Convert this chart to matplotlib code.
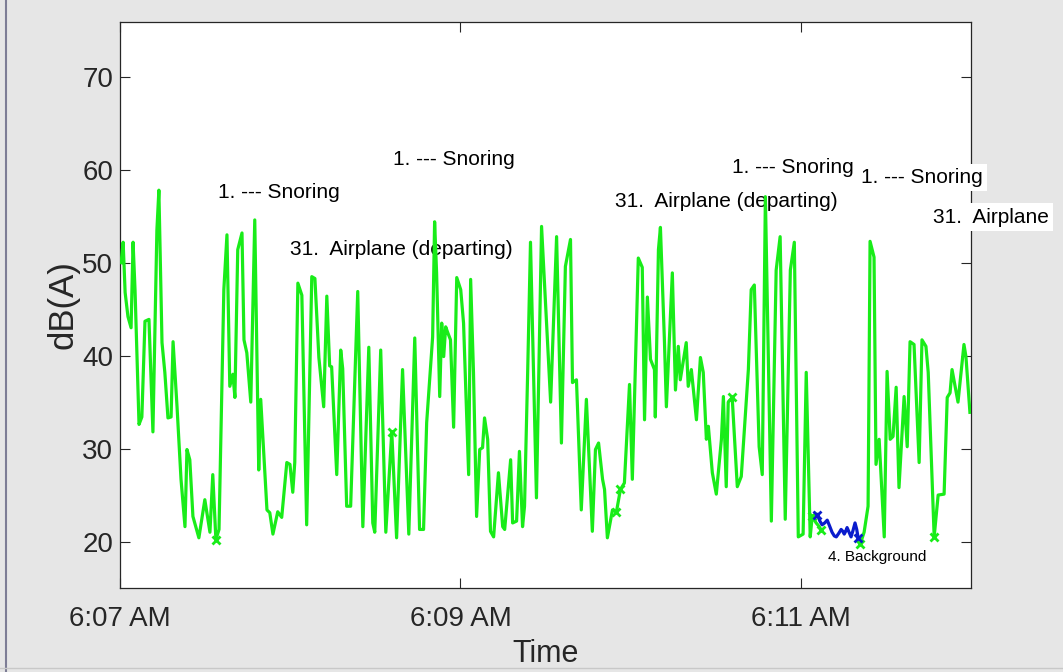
import matplotlib.pyplot as plt
from matplotlib.lines import Line2D

plt.rcParams['font.family'] = ['Liberation Sans', 'DejaVu Sans']

# seconds after 6:07:00 AM, sound level in dB(A)
t_green = [0.4, 1.1, 1.8, 2.8, 3.9, 4.6, 5.3, 6.7, 7.7, 8.8, 10.2, 11.6, 13.0, 13.7, 14.8,
           15.8, 16.9, 18.0, 18.7, 20.1, 21.5, 22.9, 23.6, 24.6, 25.7, 27.8, 29.9, 31.7, 32.7,
           33.8, 34.9, 36.6, 37.7, 38.7, 39.8, 40.5, 41.5, 43.0, 43.7, 44.7, 46.1, 47.5, 48.9,
           49.6, 51.8, 52.8, 53.9, 55.6, 57.0, 58.8, 59.9, 60.9, 61.6, 62.7, 64.1, 65.8, 67.6,
           68.7, 70.1, 71.8, 72.9, 73.9, 74.6, 76.4, 77.8, 78.5, 79.9, 81.3, 83.8, 85.6, 87.7,
           89.1, 89.8, 91.9, 93.7, 95.8, 97.5, 99.6, 101.8, 103.9, 105.6, 107.0, 108.1, 110.2,
           110.9, 111.6, 112.7, 113.4, 114.1, 114.8, 115.5, 116.5, 117.6, 118.7, 120.1, 121.1,
           122.9, 123.6, 124.6, 125.7, 126.8, 127.8, 128.5, 129.6, 130.6, 131.7, 133.4, 134.9,
           135.6, 137.7, 138.4, 139.8, 140.8, 141.9, 142.6, 143.7, 144.7, 146.8, 148.6, 151.8,
           153.9, 155.6, 157.0, 158.8, 159.5, 160.9, 162.6, 164.4, 166.5, 167.6, 168.7, 170.1,
           170.8, 171.8, 173.6, 175.0, 176.4, 177.8, 179.6, 180.6, 182.7, 184.1, 184.9, 185.9,
           187.0, 188.4, 188.7, 189.8, 190.5, 191.9, 192.6, 194.7, 195.8, 196.8, 197.5, 199.6,
           200.3, 201.4, 203.2, 204.6, 205.6, 206.7, 207.4, 208.8, 210.2, 212.0, 212.7, 213.7,
           214.4, 215.8, 217.6, 219.0, 221.5, 222.5, 223.6, 225.3, 226.4, 227.5, 229.6, 231.3,
           232.7, 234.5, 236.3, 237.7, 239.1, 240.8, 241.9, 243.3, 244.0, 245.4, 246.5, 247.2,
           None,
           260.9, 262.3, 263.7, 264.4, 265.8, 266.5, 267.6, 269.4, 270.4, 271.5, 272.5, 273.6,
           274.6, 276.4, 277.5, 278.5, 279.9, 281.7, 282.7, 284.1, 284.9, 287.0, 288.4, 290.5,
           291.6, 292.6, 293.3, 295.4, 297.5, 298.2, 299.6]
db_green = [50.0, 52.2, 46.8, 44.2, 43.0, 52.2, 47.0, 32.6, 33.4, 43.7, 43.9, 31.8, 53.5, 57.8, 41.4,
            38.2, 33.3, 33.4, 41.5, 34.5, 26.7, 21.6, 29.9, 28.8, 22.7, 20.4, 24.5, 21.0, 27.2,
            20.2, 21.3, 47.1, 53.0, 36.7, 38.0, 35.5, 51.4, 53.2, 41.7, 40.3, 35.0, 54.6, 27.7,
            35.3, 23.4, 23.1, 20.8, 23.2, 22.6, 28.5, 28.3, 25.3, 28.5, 47.8, 46.5, 21.8, 48.5,
            48.3, 39.8, 34.5, 46.4, 38.9, 38.8, 27.2, 40.6, 38.6, 23.8, 23.8, 46.9, 21.6, 40.9,
            22.0, 21.0, 40.6, 21.0, 31.8, 20.4, 38.5, 20.8, 41.9, 21.3, 21.3, 32.8, 42.0,
            54.4, 48.9, 35.6, 43.5, 39.9, 43.1, 42.5, 41.7, 32.3, 48.4, 47.1, 43.5,
            27.2, 48.2, 38.2, 22.7, 29.9, 30.1, 33.3, 31.0, 21.1, 20.5, 27.4, 21.6,
            21.3, 28.8, 22.0, 22.2, 29.7, 21.6, 23.8, 38.2, 52.2, 24.7, 53.9, 35.0,
            52.8, 30.6, 49.6, 52.5, 37.1, 37.4, 23.4, 35.3, 21.1, 29.9, 30.6, 26.7,
            25.6, 20.4, 23.4, 23.2, 25.6, 26.3, 36.9, 26.7, 50.5, 49.5, 33.1, 46.3,
            39.6, 38.5, 33.4, 51.4, 53.8, 41.7, 34.5, 48.9, 36.3, 41.0, 37.4, 41.4,
            36.7, 38.5, 33.1, 39.8, 38.2, 31.0, 32.4, 27.4, 25.1, 31.0, 35.6, 25.9,
            35.0, 35.5, 25.9, 27.0, 38.5, 47.1, 47.6, 30.2, 27.2, 57.1, 22.2, 49.2,
            52.8, 22.4, 49.2, 52.2, 20.5, 20.8, 38.2, 20.5, 22.7, 22.0, 21.6, 21.2,
            None,
            19.7, 21.0, 23.8, 52.3, 50.6, 28.3, 31.0, 20.5, 38.3, 31.0, 31.3, 36.6,
            25.8, 35.6, 30.2, 41.5, 41.2, 28.5, 41.7, 41.0, 38.2, 20.5, 25.0, 25.1,
            35.5, 36.0, 38.5, 35.0, 41.2, 39.9, 33.9]

t_blue = [245.8, 246.7, 247.5, 248.4, 249.3, 250.1, 251.0, 251.8, 252.5, 253.4, 254.2,
          254.8, 255.3, 255.8, 256.3, 257.0, 257.7, 258.4, 259.1, 259.7, 260.2]
db_blue = [22.9, 22.2, 21.8, 22.0, 22.3, 21.7, 21.0, 20.6, 20.5, 20.9, 21.3,
           21.1, 20.8, 21.1, 21.5, 21.0, 20.5, 21.2, 22.0, 21.3, 20.4]

# event start/end marks
t_marks_green = [33.8, 95.8, 175.0, 176.4, 215.8, 244.0, 247.2, 260.9, 287.0]
db_marks_green = [20.2, 31.8, 23.2, 25.6, 35.5, 22.7, 21.2, 19.7, 20.5]
t_marks_blue = [245.8, 260.2]
db_marks_blue = [22.9, 20.4]

labels = ["1. --- Snoring", "1. --- Snoring", "31.  Airplane (departing)",
          "31.  Airplane (departing)", "1. --- Snoring", "1. --- Snoring", "31.  Airplane"]
label_t = [34.5, 96.1, 59.9, 174.6, 215.8, 261.3, 286.6]
label_db = [57.5, 61.1, 51.4, 56.6, 60.2, 59.2, 54.9]

tick_t = [0, 120, 240]
tick_labels = ["6:07 AM", "6:09 AM", "6:11 AM"]

green = '#19ec19'
blue = '#0a1ccc'
dark = '#262626'

fig = plt.figure(figsize=(10.63, 6.72), dpi=100)
fig.patch.set_facecolor('#e6e6e6')
ax = fig.add_axes([0.1129, 0.125, 0.8006, 0.8423])

ax.plot([float('nan') if v is None else v for v in t_green],
        [float('nan') if v is None else v for v in db_green],
        color=green, linewidth=2.3, zorder=3)
ax.plot(t_blue, db_blue, color=blue, linewidth=2.3, zorder=3)
ax.plot(t_marks_green, db_marks_green, 'x', color=green, markersize=6, mew=2, zorder=3)
ax.plot(t_marks_blue, db_marks_blue, 'x', color=blue, markersize=6, mew=2, zorder=3)

for s, x, y in zip(labels, label_t, label_db):
    ax.text(x, y, s, fontsize=15, va='center', ha='left', color='black', clip_on=False,
            zorder=2.8, bbox=dict(facecolor='white', edgecolor='none', pad=3))
ax.text(249.6, 18.3, "4. Background", fontsize=11, va='center', ha='left', color='black', zorder=2.8)

ax.set_xlim(0, 300)
ax.set_ylim(15, 75.9)
ax.set_xticks(tick_t)
ax.set_xticklabels(tick_labels)
ax.set_yticks([20, 30, 40, 50, 60, 70])
ax.tick_params(direction='in', length=7, width=0.8, colors=dark, labelsize=20,
               top=True, right=True)
ax.tick_params(axis='x', pad=13)
ax.tick_params(axis='y', pad=5)
for sp in ax.spines.values():
    sp.set_color(dark)
    sp.set_linewidth(0.9)

ax.set_xlabel("Time", fontsize=22, color=dark, labelpad=5)
ax.set_ylabel("dB(A)", fontsize=25, color=dark, labelpad=2)

# screenshot edges
fig.add_artist(Line2D([0.0055, 0.0055], [0, 1], color='#7d7d95', linewidth=1.5))
fig.add_artist(Line2D([0, 1], [0.006, 0.006], color='#c8c8c8', linewidth=1))

fig.savefig("out.png", dpi=100, facecolor=fig.get_facecolor())
